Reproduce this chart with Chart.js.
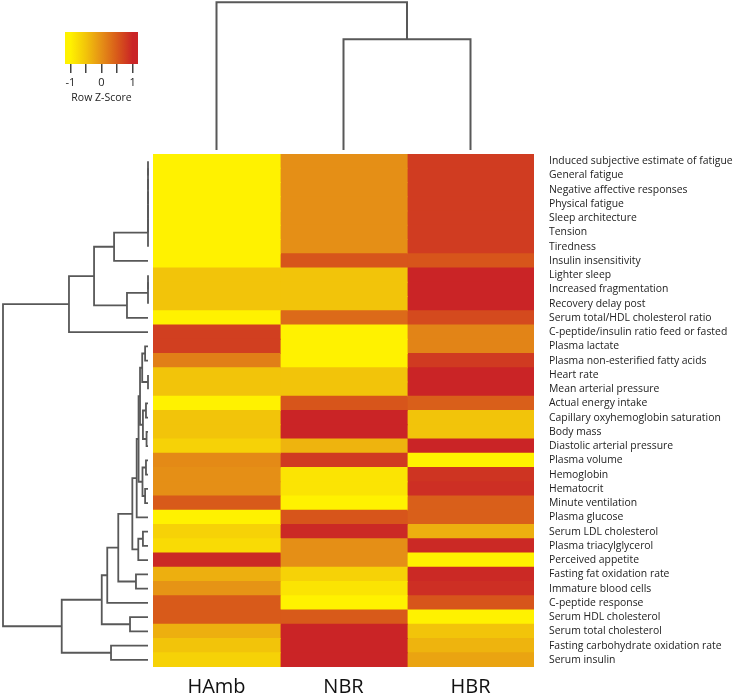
<!DOCTYPE html>
<html>
<head>
<meta charset="utf-8">
<script src="https://cdn.jsdelivr.net/npm/chart.js@4.4.1/dist/chart.umd.min.js"></script>
<style>
  body { margin: 0; background: #fff; }
  canvas { position: absolute; }
</style>
</head>
<body>
<canvas id="colTree" width="381" height="154" style="left:153px;top:0px"></canvas>
<canvas id="key" width="110" height="80" style="left:40px;top:25px"></canvas>
<canvas id="rowTree" width="153" height="513" style="left:0px;top:154px"></canvas>
<canvas id="heat" width="580" height="542" style="left:153px;top:154px"></canvas>
<script>
// rows of the heatmap, top to bottom
var rowLabels = [
  'Induced subjective estimate of fatigue', 'General fatigue', 'Negative affective responses',
  'Physical fatigue', 'Sleep architecture', 'Tension', 'Tiredness', 'Insulin insensitivity',
  'Lighter sleep', 'Increased fragmentation', 'Recovery delay post',
  'Serum total/HDL cholesterol ratio', 'C-peptide/insulin ratio feed or fasted', 'Plasma lactate',
  'Plasma non-esterified fatty acids', 'Heart rate', 'Mean arterial pressure', 'Actual energy intake',
  'Capillary oxyhemoglobin saturation', 'Body mass', 'Diastolic arterial pressure', 'Plasma volume',
  'Hemoglobin', 'Hematocrit', 'Minute ventilation', 'Plasma glucose', 'Serum LDL cholesterol',
  'Plasma triacylglycerol', 'Perceived appetite', 'Fasting fat oxidation rate', 'Immature blood cells',
  'C-peptide response', 'Serum HDL cholesterol', 'Serum total cholesterol',
  'Fasting carbohydrate oxidation rate', 'Serum insulin'
];
var colLabels = ['HAmb', 'NBR', 'HBR'];

// row z-scores
var zHAmb = [-1, -1, -1, -1, -1, -1, -1, -1, -0.5, -0.5, -0.5, -1, 0.75, 0.75, 0.15, -0.5, -0.5, -1,
  -0.5, -0.5, -0.65, 0.05, 0, 0, 0.5, -1, -0.65, -0.75, 0.95, -0.3, -0.05, 0.5, 0.5, -0.3, -0.5, -0.65];
var zNBR = [0, 0, 0, 0, 0, 0, 0, 0.55, -0.5, -0.5, -0.5, 0.35, -1, -1, -1, -0.5, -0.5, 0.55,
  1, 1, -0.35, 0.8, -0.85, -0.85, -1, 0.55, 0.95, 0, 0, -0.65, -0.85, -1, 0.5, 1, 1, 1];
var zHBR = [0.78, 0.78, 0.78, 0.78, 0.78, 0.78, 0.78, 0.55, 1, 1, 1, 0.65, 0.1, 0.1, 0.8, 1, 1, 0.45,
  -0.5, -0.5, 1, -1, 0.85, 0.9, 0.45, 0.45, -0.3, 0.95, -1, 0.95, 0.9, 0.55, -1, -0.5, -0.35, -0.2];

// row dendrogram, hclust style: negative = row (1-based), positive = earlier merge
var rowMerge = [
  [-1, -2, 0], [1, -3, 0], [2, -4, 0], [3, -5, 0], [4, -6, 0], [5, -7, 0], [6, -8, 2.34],
  [-9, -10, 0], [8, -11, 0], [9, -12, 1.45], [7, 10, 3.72], [11, -13, 5.45],
  [-14, -15, 0.2], [-16, -17, 0], [13, 14, 0.4], [-18, -19, 0.14], [-20, -21, 0.1], [16, 17, 0.35],
  [15, 18, 0.55], [-22, -23, 0.14], [-24, -25, 0.2], [20, 21, 0.38], [19, 22, 0.65], [23, -26, 0.78],
  [-27, -28, 0.35], [25, -29, 0.67], [24, 26, 1.08], [-30, -31, 0.83], [27, 28, 2.05], [29, -32, 2.81],
  [-33, -34, 1.24], [30, 31, 3.19], [-35, -36, 2.55], [32, 33, 5.95], [12, 34, 10]
];
// column dendrogram
var colMerge = [[-2, -3, 0.75], [-1, 1, 1]];

var keyTicks = [-1, -0.5, 0, 0.5, 1];
var rampStops = [[-1, [255, 242, 0]], [-0.5, [242, 196, 10]], [0, [229, 143, 22]], [0.5, [216, 90, 26]], [1, [202, 36, 38]]];

function rgb(c) { return 'rgb(' + c.join(',') + ')'; }
function zColor(z) {
  z = Math.max(-1, Math.min(1, z));
  for (var i = 1; i < rampStops.length; i++) {
    var a = rampStops[i - 1], b = rampStops[i];
    if (z <= b[0]) {
      var t = (z - a[0]) / (b[0] - a[0]);
      return rgb(a[1].map(function(v, k) { return Math.round(v + t * (b[1][k] - v)); }));
    }
  }
  return rgb(rampStops[rampStops.length - 1][1]);
}

// turn a merge table into elbow lines: each as 4 points of {h, p}
function treeLines(merge) {
  var pos = [], hgt = [], lines = [];
  function p(r) { return r < 0 ? -r - 1 : pos[r - 1]; }
  function h(r) { return r < 0 ? 0 : hgt[r - 1]; }
  merge.forEach(function(m) {
    var a = p(m[0]), b = p(m[1]);
    lines.push([{h: h(m[0]), p: a}, {h: m[2], p: a}, {h: m[2], p: b}, {h: h(m[1]), p: b}]);
    pos.push((a + b) / 2);
    hgt.push(m[2]);
  });
  return lines;
}

var lineColor = '#585858';
var off = {legend: {display: false}, tooltip: {enabled: false}};

// heatmap
var zCols = [zHAmb, zNBR, zHBR];
new Chart(document.getElementById('heat'), {
  type: 'bar',
  data: {
    labels: rowLabels,
    datasets: colLabels.map(function(name, c) {
      return {
        label: name,
        data: rowLabels.map(function() { return [c, c + 1]; }),
        backgroundColor: zCols[c].map(zColor),
        borderWidth: 0,
        inflateAmount: 0.6,
        barPercentage: 1,
        categoryPercentage: 1,
        grouped: false
      };
    })
  },
  options: {
    indexAxis: 'y',
    responsive: false,
    animation: false,
    devicePixelRatio: 1,
    layout: {padding: 0},
    plugins: off,
    scales: {
      y: {
        position: 'right',
        grid: {display: false, drawTicks: false},
        border: {display: false},
        ticks: {autoSkip: false, padding: 15, color: '#222', font: {family: 'Open Sans', size: 10.4}},
        afterFit: function(s) { s.width = 199; s.paddingTop = 0; s.paddingBottom = 0; }
      },
      x: {
        min: 0, max: 3,
        grid: {display: false, drawTicks: false},
        border: {display: false},
        afterBuildTicks: function(s) { s.ticks = colLabels.map(function(_, i) { return {value: i + 0.5}; }); },
        ticks: {
          callback: function(v) { return colLabels[Math.floor(v)]; },
          padding: 8, color: '#111', font: {family: 'Open Sans', size: 20}
        },
        afterFit: function(s) { s.height = 29; s.paddingLeft = 0; s.paddingRight = 0; }
      }
    }
  }
});

// row dendrogram
new Chart(document.getElementById('rowTree'), {
  type: 'scatter',
  data: {
    datasets: treeLines(rowMerge).map(function(l) {
      return {
        data: l.map(function(q) { return {x: q.h, y: q.p}; }),
        showLine: true, borderColor: lineColor, borderWidth: 1.8, pointRadius: 0, clip: false
      };
    })
  },
  options: {
    responsive: false, animation: false, devicePixelRatio: 1,
    layout: {padding: {left: 3, right: 5, top: 0, bottom: 0}},
    plugins: off,
    scales: {
      x: {type: 'linear', min: 0, max: 10, reverse: true, display: false},
      y: {type: 'linear', min: -0.5, max: rowLabels.length - 0.5, reverse: true, display: false}
    }
  }
});

// column dendrogram
new Chart(document.getElementById('colTree'), {
  type: 'scatter',
  data: {
    datasets: treeLines(colMerge).map(function(l) {
      return {
        data: l.map(function(q) { return {x: q.p, y: q.h}; }),
        showLine: true, borderColor: lineColor, borderWidth: 2, pointRadius: 0, clip: false
      };
    })
  },
  options: {
    responsive: false, animation: false, devicePixelRatio: 1,
    layout: {padding: {left: 0, right: 0, top: 2.3, bottom: 4}},
    plugins: off,
    scales: {
      x: {type: 'linear', min: -0.5, max: colLabels.length - 0.5, display: false},
      y: {type: 'linear', min: 0, max: 1, display: false}
    }
  }
});

// colour key
new Chart(document.getElementById('key'), {
  type: 'bar',
  data: {
    labels: ['z'],
    datasets: [{
      data: [[-1.17, 1.17]],
      backgroundColor: function(ctx) {
        var ch = ctx.chart;
        if (!ch.chartArea) return null;
        var x = ch.scales.x;
        var g = ch.ctx.createLinearGradient(x.getPixelForValue(-1), 0, x.getPixelForValue(1), 0);
        rampStops.forEach(function(s) { g.addColorStop((s[0] + 1) / 2, rgb(s[1])); });
        return g;
      },
      borderWidth: 0, barPercentage: 1, categoryPercentage: 1
    }]
  },
  options: {
    indexAxis: 'y',
    responsive: false, animation: false, devicePixelRatio: 1,
    layout: {padding: {left: 25, right: 12, top: 7, bottom: 0}},
    plugins: off,
    scales: {
      y: {display: false},
      x: {
        min: -1.17, max: 1.17,
        grid: {drawOnChartArea: false, drawTicks: true, tickLength: 9, color: '#444', lineWidth: 1.5},
        border: {display: false},
        afterBuildTicks: function(s) { s.ticks = keyTicks.map(function(v) { return {value: v}; }); },
        ticks: {
          callback: function(v) { return Number.isInteger(v) ? String(v) : ''; },
          padding: 3, color: '#222', font: {family: 'Open Sans', size: 11}
        },
        title: {display: true, text: 'Row Z-Score', color: '#222', font: {family: 'Open Sans', size: 10.5}, padding: {top: 0, bottom: 1}},
        afterFit: function(s) { s.height = 41; s.paddingLeft = 0; s.paddingRight = 0; }
      }
    }
  }
});
</script>
</body>
</html>
